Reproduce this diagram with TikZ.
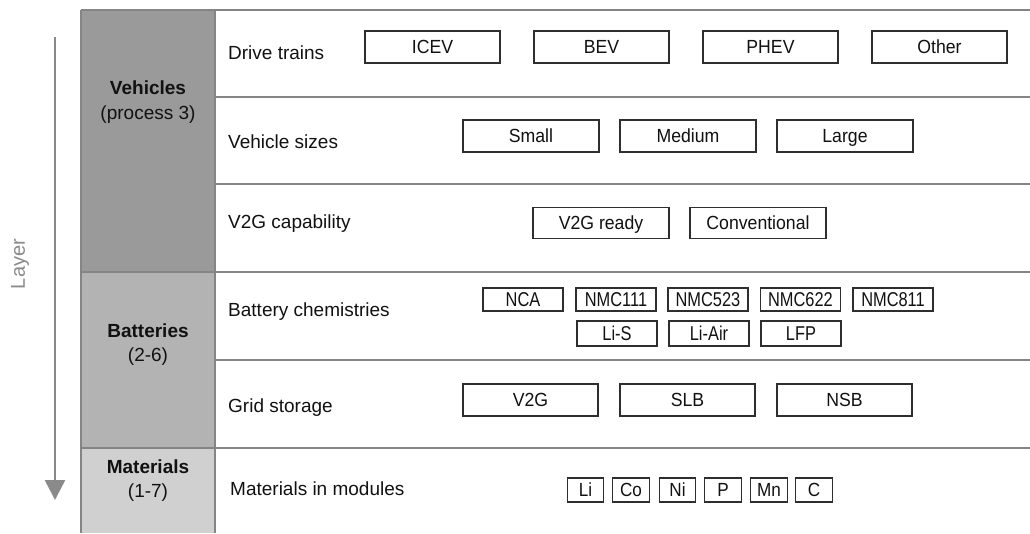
\documentclass[tikz,border=0pt]{standalone}
\usepackage{fontspec}
\setmainfont{Liberation Sans}
\usepackage{graphicx}
\usetikzlibrary{arrows.meta}
\definecolor{gridgray}{HTML}{858585}
\definecolor{boxdark}{HTML}{2E2E2E}
\definecolor{vehfill}{HTML}{9A9A9A}
\definecolor{batfill}{HTML}{B3B3B3}
\definecolor{matfill}{HTML}{D0D0D0}
\definecolor{arrowgray}{HTML}{8A8A8A}
\definecolor{txt}{HTML}{111111}
\newcommand\cond[1]{\scalebox{0.82}[1]{#1}}
\newcommand\condb[1]{\scalebox{0.93}[1]{#1}}
\newcommand\conde[1]{\scalebox{0.9}[1]{#1}}
\tikzset{
  gridline/.style={draw=gridgray, line width=1.5pt},
  item/.style={draw=boxdark, line width=1.1pt, fill=white, inner sep=0pt,
    text height=13.5pt, text depth=0pt, text=txt, font=\fontsize{19}{21}\selectfont},
  bigitem/.style={item, minimum width=135pt, minimum height=32pt},
  chem/.style={item, minimum width=80pt, text height=14.5pt, font=\fontsize{20}{22}\selectfont},
  elem/.style={item, minimum width=36.5pt, minimum height=24pt},
  rowlabel/.style={anchor=base west, inner sep=0pt, text=txt, font=\fontsize{19}{21}\selectfont},
  celllabel/.style={anchor=base, inner sep=0pt, text=txt, font=\fontsize{19}{21}\selectfont},
}
\begin{document}
\begin{tikzpicture}[x=1pt,y=-1pt]
\useasboundingbox (0,0) rectangle (1030,533);
% gray column cells
\fill[vehfill] (81,10) rectangle (215,272);
\fill[batfill] (81,272) rectangle (215,448);
\fill[matfill] (81,448) rectangle (215,533);
% grid lines
\draw[gridline] (81,10) -- (1030,10);
\draw[gridline] (215,97) -- (1030,97);
\draw[gridline] (215,184) -- (1030,184);
\draw[gridline] (81,272) -- (1030,272);
\draw[gridline] (215,360) -- (1030,360);
\draw[gridline] (81,448) -- (1030,448);
\draw[gridline] (81,10) -- (81,533);
\draw[gridline] (215,10) -- (215,533);

% layer arrow
\node[rotate=90, text=arrowgray, inner sep=0pt, font=\fontsize{20}{22}\selectfont] (layer) at (20,264) {Layer};
\coordinate (atop) at (55,37);
\coordinate (abot) at (55,500);
\draw[arrowgray, line width=2.5pt, -{Triangle[width=20pt,length=20pt]}] (atop) -- (abot);

% category labels
\node[celllabel] (veh) at (148,94) {\textbf{Vehicles}};
\node[celllabel] (vehp) at (148,119) {(process 3)};
\node[celllabel] (bat) at (148,337) {\textbf{Batteries}};
\node[celllabel] (batp) at (148,361) {(2-6)};
\node[celllabel] (mat) at (148,473) {\textbf{Materials}};
\node[celllabel] (matp) at (148,497) {(1-7)};

% row labels
\node[rowlabel] (rdrive) at (228,59) {Drive trains};
\node[rowlabel] (rsize) at (228,148) {Vehicle sizes};
\node[rowlabel] (rv2g) at (228,228) {V2G capability};
\node[rowlabel] (rchem) at (228,316) {Battery chemistries};
\node[rowlabel] (rgrid) at (228,412) {Grid storage};
\node[rowlabel] (rmat) at (230,495) {Materials in modules};

% drive trains
\node[bigitem] (icev) at (432.5,47) {\condb{ICEV}};
\node[bigitem] (bev) at (601.5,47) {\condb{BEV}};
\node[bigitem] (phev) at (770.5,47) {\condb{PHEV}};
\node[bigitem] (other) at (939.5,47) {\condb{Other}};
% sizes
\node[bigitem, minimum width=136pt] (small) at (531,136) {\condb{Small}};
\node[bigitem, minimum width=136pt] (medium) at (688,136) {\condb{Medium}};
\node[bigitem, minimum width=136pt] (large) at (845,136) {\condb{Large}};
% v2g
\node[bigitem, minimum width=136pt, minimum height=31pt] (v2gready) at (601,223) {\condb{V2G ready}};
\node[bigitem, minimum width=136pt, minimum height=31pt] (conv) at (758,223) {\condb{Conventional}};
% chemistries
\node[chem, minimum height=23pt] (nca) at (523,299.5) {\cond{NCA}};
\node[chem, minimum height=23pt] (nmc111) at (616,299.5) {\cond{NMC111}};
\node[chem, minimum height=23pt] (nmc523) at (708,299.5) {\cond{NMC523}};
\node[chem, minimum height=23pt] (nmc622) at (800.5,299.5) {\cond{NMC622}};
\node[chem, minimum height=23pt] (nmc811) at (893,299.5) {\cond{NMC811}};
\node[chem, minimum height=25pt] (lis) at (617,333.5) {\cond{Li-S}};
\node[chem, minimum height=25pt] (liair) at (709,333.5) {\cond{Li-Air}};
\node[chem, minimum height=25pt] (lfp) at (801,333.5) {\cond{LFP}};
% grid storage
\node[bigitem] (v2g) at (530.5,400) {\condb{V2G}};
\node[bigitem] (slb) at (687.5,400) {\condb{SLB}};
\node[bigitem] (nsb) at (844.5,400) {\condb{NSB}};
% materials
\node[elem] (li) at (585.5,490) {\conde{Li}};
\node[elem] (co) at (631,490) {\conde{Co}};
\node[elem] (ni) at (677.5,490) {\conde{Ni}};
\node[elem] (p) at (723,490) {\conde{P}};
\node[elem] (mn) at (769,490) {\conde{Mn}};
\node[elem] (c) at (814,490) {\conde{C}};
\end{tikzpicture}
\end{document}
